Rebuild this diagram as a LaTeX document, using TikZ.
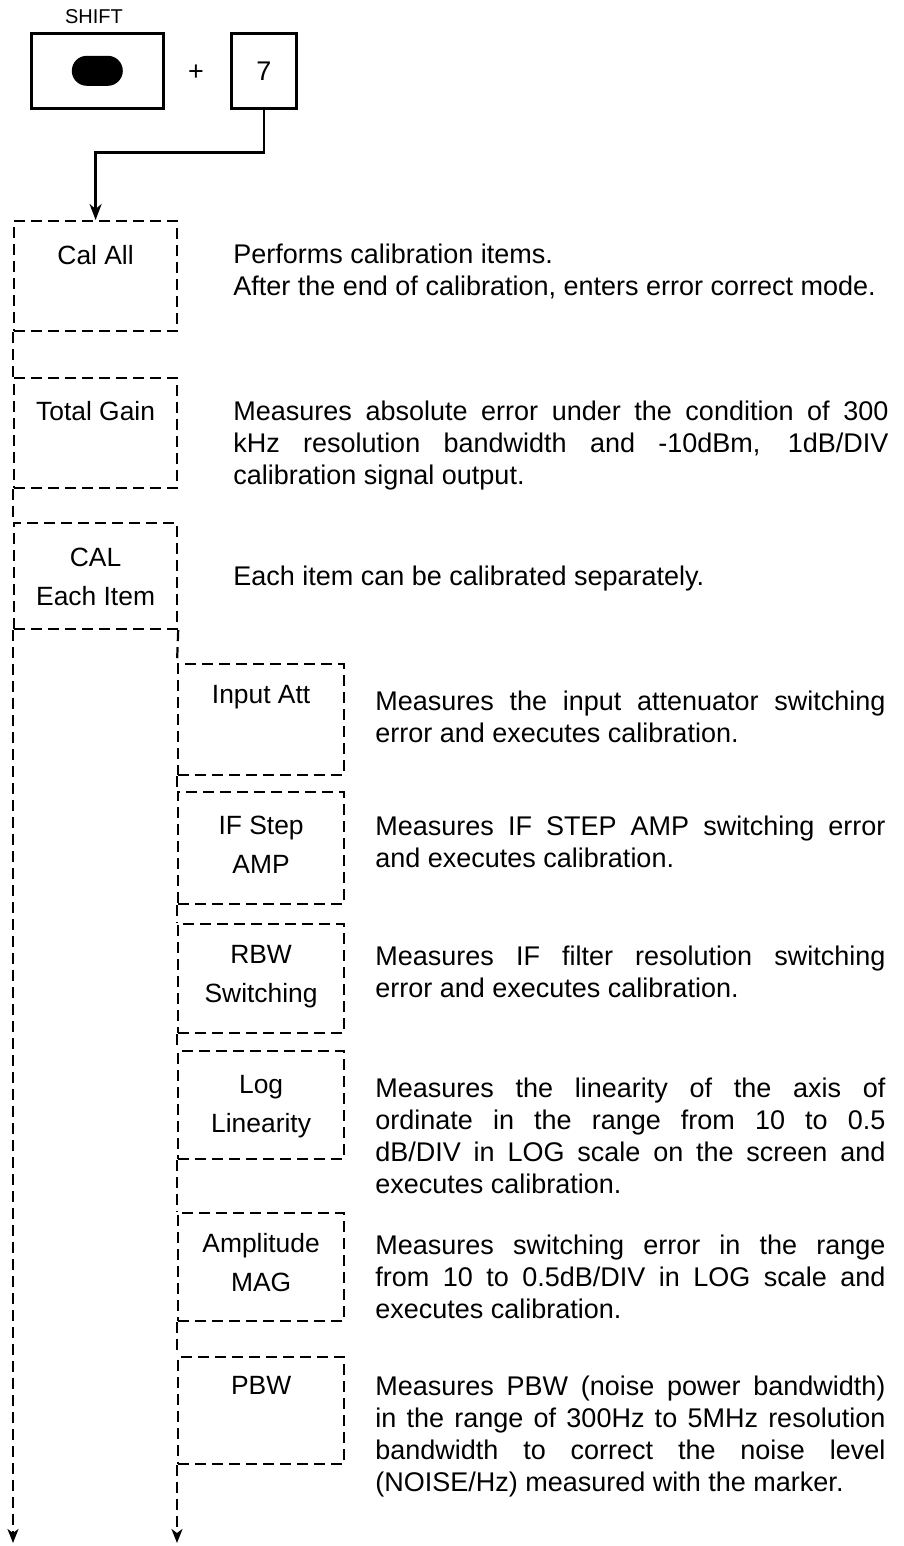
\documentclass[tikz,border=0pt]{standalone}
\usepackage{fontspec}
\setmainfont{Liberation Sans}
\usetikzlibrary{arrows.meta}
\hyphenpenalty=10000
\exhyphenpenalty=10000
\newcommand\descfont{\fontsize{13.5}{15.9}\selectfont}
\newcommand\lblfont{\fontsize{13.2}{19.5}\selectfont}
\begin{document}
\begin{tikzpicture}[x=0.5pt,y=-0.5pt,
  keybox/.style={draw, line width=1.3pt, inner sep=0pt, anchor=north west, minimum height=37.5pt},
  calbox/.style={draw, dash pattern=on 5.5pt off 3pt, line width=1.1pt, inner sep=0pt, anchor=north west},
  colA/.style={calbox, minimum width=81.5pt},
  colB/.style={calbox, minimum width=83pt},
  lbl/.style={anchor=north, inner sep=0pt, align=center, font=\lblfont},
  desc/.style={anchor=north west, inner sep=0pt, align=justify, font=\descfont},
  descA/.style={desc, text width=327.5pt},
  descB/.style={desc, text width=255pt},
  dashline/.style={dash pattern=on 5.5pt off 3pt, line width=1.1pt},
  solidarrow/.style={line width=1.2pt, -{Stealth[length=8pt,width=6pt,inset=2.5pt]}},
  dasharrow/.style={dashline, -{Stealth[length=7pt,width=5.5pt,inset=2pt]}}
]
\useasboundingbox (0,0) rectangle (904,1546);

% keys
\node[font=\fontsize{10}{12}\selectfont, inner sep=0pt] (shiftlbl) at (94,17) {SHIFT};
\node[keybox, minimum width=66pt] (shiftkey) at (30,32) {};
\node[fill=black, rounded corners=7.5pt, minimum width=25.5pt, minimum height=15pt, inner sep=0pt] (oval) at (shiftkey.center) {};
\node[font=\descfont, inner sep=0pt] (plus) at (196,73) {+};
\node[keybox, minimum width=32.5pt] (key7) at (230,32) {};
\node[font=\descfont, inner sep=0pt] (seven) at (key7.center) {7};

% column A boxes
\node[colA, minimum height=55pt] (calall) at (13,220) {};
\node[colA, minimum height=55pt] (total) at (13,377) {};
\node[colA, minimum height=53pt] (each) at (13,522) {};
% column B boxes
\node[colB, minimum height=55.5pt] (input) at (177,663) {};
\node[colB, minimum height=56pt] (ifstep) at (177,791) {};
\node[colB, minimum height=54.5pt] (rbw) at (177,923) {};
\node[colB, minimum height=54pt] (loglin) at (177,1050) {};
\node[colB, minimum height=54pt] (amp) at (177,1212) {};
\node[colB, minimum height=53.5pt] (pbw) at (177,1356) {};

% box labels
\node[lbl] (calallT) at ([yshift=-12.5pt]calall.north) {Cal All};
\node[lbl] (totalT) at ([yshift=-12pt]total.north) {Total Gain};
\node[lbl] (eachT) at ([yshift=-13pt]each.north) {CAL\\Each Item};
\node[lbl] (inputT) at ([yshift=-11pt]input.north) {Input Att};
\node[lbl] (ifstepT) at ([yshift=-12.5pt]ifstep.north) {IF Step\\AMP};
\node[lbl] (rbwT) at ([yshift=-11pt]rbw.north) {RBW\\Switching};
\node[lbl] (loglinT) at ([yshift=-12.5pt]loglin.north) {Log\\Linearity};
\node[lbl] (ampT) at ([yshift=-10.5pt]amp.north) {Amplitude\\MAG};
\node[lbl] (pbwT) at ([yshift=-10pt]pbw.north) {PBW};

% descriptions
\node[desc, align=left] (d1) at (233,244) {Performs calibration items.\\After the end of calibration, enters error correct mode.};
\node[descA] (d2) at (233,401) {Measures absolute error under the condition of 300\linebreak kHz resolution bandwidth and -10dBm, 1dB/DIV\linebreak calibration signal output.};
\node[desc] (d3) at (233,566) {Each item can be calibrated separately.};
\node[descB] (d4) at (375,691) {Measures the input attenuator switching\linebreak error and executes calibration.};
\node[descB] (d5) at (375,816) {Measures IF STEP AMP switching error\linebreak and executes calibration.};
\node[descB] (d6) at (375,946) {Measures IF filter resolution switching\linebreak error and executes calibration.};
\node[descB] (d7) at (375,1078) {Measures the linearity of the axis of\linebreak ordinate in the range from 10 to 0.5\linebreak dB/DIV in LOG scale on the screen and\linebreak executes calibration.};
\node[descB] (d8) at (375,1235) {Measures switching error in the range\linebreak from 10 to 0.5dB/DIV in LOG scale and\linebreak executes calibration.};
\node[descB] (d9) at (375,1376) {Measures PBW (noise power bandwidth)\linebreak in the range of 300Hz to 5MHz resolution\linebreak bandwidth to correct the noise level\linebreak (NOISE/Hz) measured with the marker.};

% connectors
\coordinate (endA) at (13,1543);
\coordinate (endB) at (177,1543);
\draw[solidarrow] (key7.south) -- ++(0,43) -| (calall.north);
\draw[dashline] (calall.south west) -- (total.north west);
\draw[dashline] (total.south west) -- (each.north west);
\draw[dasharrow] (each.south west) -- (endA);
\draw[dashline] (each.south east) -- (input.north west);
\draw[dashline] (input.south west) -- (ifstep.north west);
\draw[dashline] (ifstep.south west) -- (rbw.north west);
\draw[dashline] (rbw.south west) -- (loglin.north west);
\draw[dashline] (loglin.south west) -- (amp.north west);
\draw[dashline] (amp.south west) -- (pbw.north west);
\draw[dasharrow] (pbw.south west) -- (endB);
\end{tikzpicture}
\end{document}
